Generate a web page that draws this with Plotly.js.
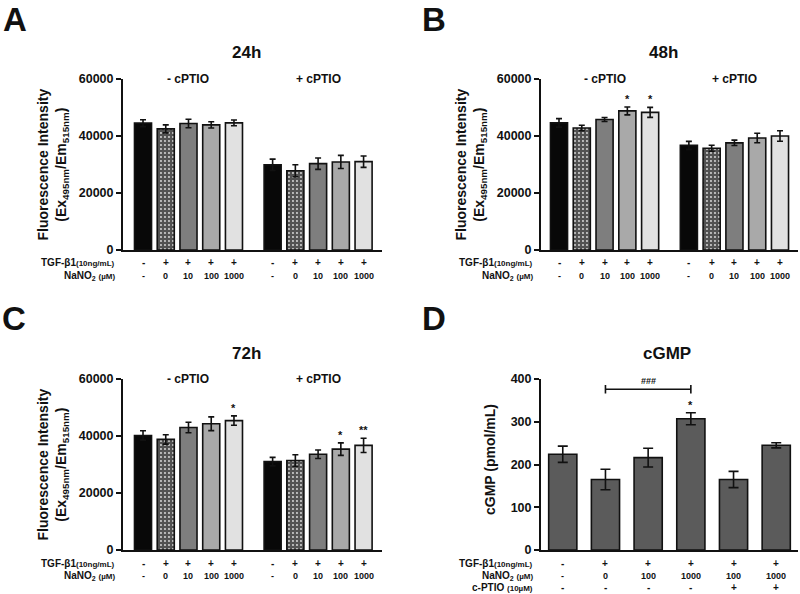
<!DOCTYPE html>
<html>
<head>
<meta charset="utf-8">
<script src="https://cdn.plot.ly/plotly-3.0.1.min.js"></script>
<style>body{margin:0;background:#fff}#fig{width:800px;height:594px}</style>
</head>
<body>
<div id="fig"></div>
<script>
// conditions under the fluorescence panels (A-C)
const tgfSigns = ['-', '+', '+', '+', '+', '-', '+', '+', '+', '+'];
const nano2Doses = ['-', '0', '10', '100', '1000', '-', '0', '10', '100', '1000'];
const cptioGroups = ['- cPTIO', '+ cPTIO'];

// 24h
const mean24 = [44500, 42500, 44400, 43900, 44600, 29900, 27800, 30300, 30900, 31000];
const err24 = [1200, 1400, 1500, 1100, 1000, 2000, 2100, 2000, 2300, 2000];
const star24 = ['', '', '', '', '', '', '', '', '', ''];
// 48h
const mean48 = [44600, 42800, 45800, 48800, 48300, 36700, 35700, 37600, 39300, 40000];
const err48 = [1500, 950, 700, 1400, 1750, 1400, 1050, 950, 1650, 1850];
const star48 = ['', '', '', '*', '*', '', '', '', '', ''];
// 72h
const mean72 = [40200, 38800, 43000, 44300, 45400, 31000, 31400, 33600, 35400, 36700];
const err72 = [1650, 1650, 1850, 2400, 1650, 1500, 2000, 1500, 2200, 2500];
const star72 = ['', '', '', '', '*', '', '', '', '*', '**'];

// cGMP (panel D)
const cgmpTgf = ['-', '+', '+', '+', '+', '+'];
const cgmpNano2 = ['-', '0', '100', '1000', '100', '1000'];
const cgmpCptio = ['-', '-', '-', '-', '+', '+'];
const cgmpMean = [224, 165, 216, 307, 165, 245];
const cgmpErr = [19, 24, 22, 14, 19, 6];
const cgmpStar = ['', '', '', '*', '', ''];
const cgmpCompare = [1, 3];      // bars joined by the ### bracket
const cgmpCompareLevel = 376;

const FONT = 'Arial, "Liberation Sans", sans-serif';
const W = 800, H = 594;
const px = x => x / W;
const py = y => 1 - y / H;

const shades = ['#080808', '#525252', '#7e7e7e', '#a9a9a9', '#e1e1e1'];
const GAP = 0.7; // extra space between the two cPTIO groups
const pos10 = tgfSigns.map((s, i) => i + (i >= 5 ? GAP : 0));

let data = [];
let annotations = [];
let shapes = [];
let layout = {
  width: W, height: H,
  margin: {l: 0, r: 0, t: 0, b: 0},
  paper_bgcolor: 'white',
  plot_bgcolor: 'white',
  showlegend: false,
  font: {family: FONT, color: '#111'},
  bargap: 0
};

function yAxis(dom, range, dtick, anchor) {
  return {
    domain: [py(dom[1]), py(dom[0])], range: range, dtick: dtick, tick0: 0,
    tickformat: 'd', showgrid: false, zeroline: false,
    showline: true, linewidth: 2, linecolor: '#111',
    ticks: 'outside', ticklen: 5, tickwidth: 2, tickcolor: '#111',
    tickfont: {family: FONT, size: 12.5, weight: 'bold', color: '#111'},
    anchor: anchor, fixedrange: true
  };
}
function xAxis(dom, range, anchor) {
  return {
    domain: [px(dom[0]), px(dom[1])], range: range,
    showgrid: false, zeroline: false, showticklabels: false, ticks: '',
    showline: true, linewidth: 2, linecolor: '#111',
    anchor: anchor, fixedrange: true
  };
}
function note(text, x, y, opts) {
  return Object.assign({
    text: text, x: px(x), y: py(y), xref: 'paper', yref: 'paper',
    showarrow: false, xanchor: 'center', yanchor: 'middle',
    font: {family: FONT, size: 12, weight: 'bold', color: '#111'}
  }, opts || {});
}

function fluoPanel(k, letter, title, mean, err, stars, box, letterPos) {
  const xa = 'x' + (k === 1 ? '' : k), ya = 'y' + (k === 1 ? '' : k);
  const left = box.x0, right = box.x1, top = box.y0, bot = box.y1;
  layout['xaxis' + (k === 1 ? '' : k)] = xAxis([left, right], box.xr, ya);
  layout['yaxis' + (k === 1 ? '' : k)] = yAxis([top, bot], [0, 60000], 20000, xa);

  data.push({
    type: 'bar', x: pos10, y: mean, xaxis: xa, yaxis: ya, width: 0.75,
    marker: {
      color: pos10.map((p, i) => shades[i % 5]),
      line: {color: '#111', width: 1.6},
      pattern: {
        shape: pos10.map((p, i) => i % 5 === 1 ? '.' : ''),
        fillmode: 'overlay', fgcolor: '#808080', fgopacity: 0.8, size: 4, solidity: 0.18
      }
    },
    error_y: {type: 'data', array: err, visible: true, color: '#111', thickness: 1.6, width: 3},
    hoverinfo: 'skip'
  });

  stars.forEach((s, i) => {
    if (s) annotations.push({
      text: s, x: pos10[i], y: mean[i] + err[i], xref: xa, yref: ya,
      showarrow: false, yanchor: 'bottom', yshift: 0,
      font: {family: FONT, size: 11, weight: 'bold', color: '#111'}
    });
  });

  // group labels
  cptioGroups.forEach((g, gi) => {
    const xs = pos10.slice(gi * 5, gi * 5 + 5);
    annotations.push({
      text: g, x: (xs[0] + xs[4]) / 2, y: 60000, xref: xa, yref: ya,
      showarrow: false, yanchor: 'middle',
      font: {family: FONT, size: 12, weight: 'bold', color: '#111'}
    });
  });

  // condition table
  const rowY = [bot + 13, bot + 26];
  tgfSigns.forEach((s, i) => {
    annotations.push({text: s, x: pos10[i], xref: xa, y: py(rowY[0]), yref: 'paper', showarrow: false,
      yanchor: 'middle', font: {family: FONT, size: 10, weight: 'bold', color: '#111'}});
    annotations.push({text: nano2Doses[i], x: pos10[i], xref: xa, y: py(rowY[1]), yref: 'paper', showarrow: false,
      yanchor: 'middle', font: {family: FONT, size: 9, weight: 'bold', color: '#111'}});
  });
  annotations.push(note('TGF-β1<span style="font-size:8px">(10ng/mL)</span>', left - 6, rowY[0], {xanchor: 'right', font: {family: FONT, size: 10, weight: 'bold', color: '#111'}}));
  annotations.push(note('NaNO<sub>2</sub> <span style="font-size:8px">(µM)</span>', left - 6, rowY[1], {xanchor: 'right', font: {family: FONT, size: 10, weight: 'bold', color: '#111'}}));

  // titles
  annotations.push(note(title, (left + right) / 2 - 6, top - 26, {font: {family: FONT, size: 17, weight: 'bold', color: '#111'}}));
  annotations.push(note(letter, letterPos[0], letterPos[1], {font: {family: FONT, size: 33, weight: 'bold', color: '#111'}}));
  annotations.push(note('Fluorescence Intensity<br>(Ex<sub>495nm</sub>/Em<sub>515nm</sub>)', left - 71, (top + bot) / 2 + 0, {
    textangle: -90, font: {family: FONT, size: 14, weight: 'bold', color: '#111'}}));
}

fluoPanel(1, 'A', '24h', mean24, err24, star24, {x0: 123, x1: 382, y0: 79, y1: 250, xr: [-0.88, 10.51]}, [15, 19]);
fluoPanel(2, 'B', '48h', mean48, err48, star48, {x0: 541, x1: 798, y0: 79, y1: 250, xr: [-0.79, 10.49]}, [434, 19]);
fluoPanel(3, 'C', '72h', mean72, err72, star72, {x0: 123, x1: 382, y0: 379, y1: 550, xr: [-0.88, 10.51]}, [14, 318]);

// panel D
(function () {
  const left = 541, right = 798, top = 379, bot = 550;
  const posD = cgmpMean.map((v, i) => i);
  layout.xaxis4 = xAxis([left, right], [-0.51, 5.51], 'y4');
  layout.yaxis4 = yAxis([top, bot], [0, 400], 100, 'x4');
  data.push({
    type: 'bar', x: posD, y: cgmpMean, xaxis: 'x4', yaxis: 'y4', width: 0.66,
    marker: {color: '#5b5b5b', line: {color: '#111', width: 1.6}},
    error_y: {type: 'data', array: cgmpErr, visible: true, color: '#111', thickness: 1.6, width: 5},
    hoverinfo: 'skip'
  });
  cgmpStar.forEach((s, i) => {
    if (s) annotations.push({
      text: s, x: posD[i], y: cgmpMean[i] + cgmpErr[i], xref: 'x4', yref: 'y4',
      showarrow: false, yanchor: 'bottom',
      font: {family: FONT, size: 11, weight: 'bold', color: '#111'}
    });
  });
  const [a, b] = cgmpCompare, L = cgmpCompareLevel;
  shapes.push({
    type: 'path', xref: 'x4', yref: 'y4',
    path: `M${a},${L + 10} L${a},${L - 10} M${a},${L} L${b},${L} M${b},${L + 10} L${b},${L - 10}`,
    line: {color: '#111', width: 1.6}
  });
  annotations.push({text: '###', x: (a + b) / 2, y: L, xref: 'x4', yref: 'y4', showarrow: false,
    yanchor: 'bottom', yshift: 1, font: {family: FONT, size: 9, weight: 'bold', color: '#111'}});

  const rowY = [bot + 13, bot + 26, bot + 37];
  const rows = [cgmpTgf, cgmpNano2, cgmpCptio];
  rows.forEach((r, ri) => r.forEach((s, i) => {
    annotations.push({text: s, x: posD[i], xref: 'x4', y: py(rowY[ri]), yref: 'paper', showarrow: false,
      yanchor: 'middle', font: {family: FONT, size: ri === 1 ? 9 : 10, weight: 'bold', color: '#111'}});
  }));
  const lf = {family: FONT, size: 10, weight: 'bold', color: '#111'};
  annotations.push(note('TGF-β1<span style="font-size:8px">(10ng/mL)</span>', left - 6, rowY[0], {xanchor: 'right', font: lf}));
  annotations.push(note('NaNO<sub>2</sub> <span style="font-size:8px">(µM)</span>', left - 6, rowY[1], {xanchor: 'right', font: lf}));
  annotations.push(note('c-PTIO <span style="font-size:8px">(10µM)</span>', left - 6, rowY[2], {xanchor: 'right', font: lf}));

  annotations.push(note('cGMP', 667, 353, {font: {family: FONT, size: 17, weight: 'bold', color: '#111'}}));
  annotations.push(note('D', 434, 318, {font: {family: FONT, size: 33, weight: 'bold', color: '#111'}}));
  annotations.push(note('cGMP (pmol/mL)', 490, 460, {textangle: -90, font: {family: FONT, size: 14, weight: 'bold', color: '#111'}}));
})();

layout.annotations = annotations;
layout.shapes = shapes;

Plotly.newPlot('fig', data, layout, {displayModeBar: false, staticPlot: true});
</script>
</body>
</html>
